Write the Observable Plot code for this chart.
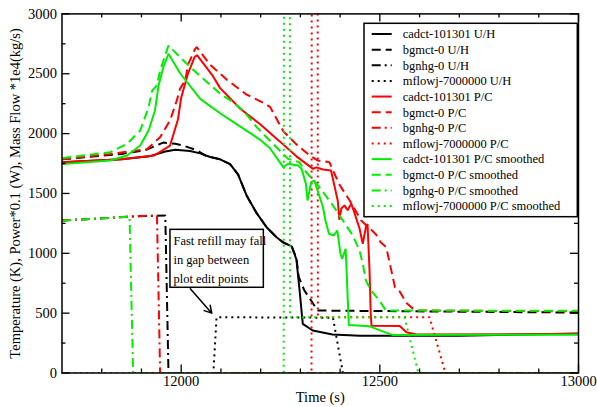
<!DOCTYPE html>
<html><head><meta charset="utf-8">
<script src="https://cdn.jsdelivr.net/npm/d3@7"></script>
<script src="https://cdn.jsdelivr.net/npm/@observablehq/plot@0.6"></script>
<style>body{margin:0;background:#fff} svg{display:block} svg text{font-family:'Liberation Serif','Times New Roman',serif}</style>
</head><body><div id="chart"></div>
<script>
// ---- data: [time (s), value] ----
const cadctUH = [[11700,1760],[11850,1785],[11920,1810],[11960,1850],[11985,1865],[12022,1855],[12048,1835],[12073,1805],[12098,1785],[12123,1745],[12143,1660],[12165,1480],[12190,1335],[12215,1218],[12240,1134],[12257,1090],[12278,1058],[12290,950],[12298,690],[12306,410],[12331,355],[12381,322],[12450,312],[12700,312],[13000,330]];
const bgmctUH = [[11700,1785],[11850,1830],[11910,1862],[11955,1925],[11985,1915],[12005,1900],[12040,1860],[12065,1808],[12073,1805],[12098,1785],[12123,1745],[12143,1660],[12165,1480],[12190,1335],[12215,1218],[12240,1134],[12257,1090],[12278,1060],[12290,960],[12296,800],[12310,690],[12327,606],[12343,522],[12400,520],[13000,505]];
const bgnhgUH = [[11700,1275],[11800,1292],[11870,1307],[11960,1316],[11968,0],[13000,0]];
const mflowjUH = [[11700,0],[12081,0],[12089,466],[12382,462],[12407,0],[13000,0]];
const cadctPC = [[11700,1760],[11850,1785],[11932,1817],[11972,1900],[11992,2120],[12000,2300],[12017,2500],[12034,2640],[12040,2655],[12048,2620],[12080,2480],[12098,2380],[12148,2210],[12198,2080],[12248,1935],[12290,1810],[12332,1705],[12340,1718],[12357,1700],[12377,1692],[12386,1560],[12394,1440],[12398,1280],[12403,1375],[12411,1400],[12419,1360],[12428,1415],[12436,1340],[12449,1205],[12457,1080],[12465,1220],[12469,1245],[12474,860],[12477,500],[12479,395],[12550,392],[12567,340],[12592,322],[13000,325]];
const bgmctPC = [[11700,1785],[11822,1830],[11914,1870],[11947,1970],[11972,2110],[11989,2277],[11997,2374],[12010,2444],[12018,2583],[12035,2708],[12039,2722],[12073,2575],[12115,2450],[12165,2325],[12211,2250],[12224,2221],[12257,2020],[12290,1910],[12324,1815],[12344,1775],[12373,1761],[12382,1692],[12399,1570],[12424,1441],[12453,1274],[12490,1160],[12502,1093],[12516,1051],[12528,870],[12538,717],[12550,680],[12567,585],[12584,536],[12592,522],[13000,515]];
const bgnhgPC = [[11700,1275],[11800,1292],[11870,1307],[11939,1316],[11947,0],[13000,0]];
const mflowjPC = [[11700,0],[12328,0],[12329,6000],[12343,6000],[12344,466],[12625,466],[12665,0],[13000,0]];
const cadctPCs = [[11700,1745],[11822,1775],[11864,1817],[11897,1900],[11918,2026],[11934,2193],[11943,2402],[11955,2555],[11968,2667],[11998,2500],[12048,2290],[12098,2170],[12148,2060],[12198,1950],[12223,1880],[12257,1720],[12269,1748],[12294,1734],[12303,1706],[12314,1580],[12318,1441],[12327,1594],[12335,1608],[12357,1385],[12363,1274],[12372,1163],[12384,1149],[12393,1190],[12401,996],[12405,954],[12414,1037],[12422,400],[12474,390],[12531,318],[13000,320]];
const bgmctPCs = [[11700,1795],[11822,1845],[11864,1915],[11897,2026],[11918,2221],[11927,2360],[11939,2402],[11947,2527],[11968,2736],[12014,2583],[12048,2480],[12098,2333],[12131,2262],[12156,2193],[12190,2054],[12223,1942],[12248,1859],[12269,1789],[12298,1761],[12311,1692],[12348,1552],[12382,1399],[12407,1274],[12432,1149],[12449,1023],[12457,912],[12465,773],[12478,689],[12499,606],[12515,522],[13000,520]];
const bgnhgPCs = [[11700,1275],[11800,1292],[11870,1307],[11879,0],[13000,0]];
const mflowjPCs = [[11700,0],[12258,0],[12259,6000],[12273,6000],[12274,466],[12562,466],[12597,0],[13000,0]];

const seriesNames = ["cadct-101301 U/H","bgmct-0 U/H","bgnhg-0 U/H","mflowj-7000000 U/H",
  "cadct-101301 P/C","bgmct-0 P/C","bgnhg-0 P/C","mflowj-7000000 P/C",
  "cadct-101301 P/C smoothed","bgmct-0 P/C smoothed","bgnhg-0 P/C smoothed","mflowj-7000000 P/C smoothed"];
const seriesData = [cadctUH,bgmctUH,bgnhgUH,mflowjUH,cadctPC,bgmctPC,bgnhgPC,mflowjPC,cadctPCs,bgmctPCs,bgnhgPCs,mflowjPCs];

const xMajor = [12000,12500,13000];
const xMinor = [11800,11900,12100,12200,12300,12400,12600,12700,12800,12900];
const yMajor = [0,500,1000,1500,2000,2500,3000];
const yMinor = [250,750,1250,1750,2250,2750];

const noteBox = [{x1:11973, x2:12208, y1:712, y2:1196, text:"Fast refill may fall\nin gap between\nplot edit points"}];
const noteArrow = [{x1:12023, y1:703, x2:12077, y2:500}];

// ---- styles ----
const colors = ["black","black","black","black","#ff0000","#ff0000","#ff0000","#ff0000","#00ee00","#00ee00","#00ee00","#00ee00"];
const dashes = [null,"9,5","9,4,2,4","2,4"];
const FONT = "'Liberation Serif','Times New Roman',serif";

const W=597, H=407, mL=61.5, mR=19, mT=13.4, mB=34.5;
const innerW = W-mL-mR, innerH = H-mT-mB;
const MAJ=8, MIN=4;

const marks = [];
seriesData.forEach((d,i)=>{
  marks.push(Plot.line(d,{x:p=>p[0], y:p=>p[1], stroke:colors[i], strokeWidth:2,
    strokeDasharray: dashes[i%4] || undefined, clip:true, strokeLinejoin:"miter", strokeLinecap:"butt"}));
});
// annotation
marks.push(Plot.rect(noteBox,{x1:"x1",x2:"x2",y1:"y1",y2:"y2",fill:"white",stroke:"black",strokeWidth:1.5}));
marks.push(Plot.text(noteBox,{x:"x1",y:"y2",text:"text",textAnchor:"start",lineAnchor:"top",dx:3,dy:2,lineHeight:1.5,fontSize:12.5,fontFamily:FONT,fill:"black"}));
marks.push(Plot.arrow(noteArrow,{x1:"x1",y1:"y1",x2:"x2",y2:"y2",stroke:"black",strokeWidth:1.5,headLength:8}));
// inward ticks on all four sides
marks.push(Plot.ruleX(xMajor,{x:d=>d, insetTop:innerH-MAJ, stroke:"black", strokeWidth:1.3}));
marks.push(Plot.ruleX(xMajor,{x:d=>d, insetBottom:innerH-MAJ, stroke:"black", strokeWidth:1.3}));
marks.push(Plot.ruleX(xMinor,{x:d=>d, insetTop:innerH-MIN, stroke:"black", strokeWidth:1.3}));
marks.push(Plot.ruleX(xMinor,{x:d=>d, insetBottom:innerH-MIN, stroke:"black", strokeWidth:1.3}));
marks.push(Plot.ruleY(yMajor,{y:d=>d, insetRight:innerW-MAJ, stroke:"black", strokeWidth:1.3}));
marks.push(Plot.ruleY(yMajor,{y:d=>d, insetLeft:innerW-MAJ, stroke:"black", strokeWidth:1.3}));
marks.push(Plot.ruleY(yMinor,{y:d=>d, insetRight:innerW-MIN, stroke:"black", strokeWidth:1.3}));
marks.push(Plot.ruleY(yMinor,{y:d=>d, insetLeft:innerW-MIN, stroke:"black", strokeWidth:1.3}));
marks.push(Plot.frame({stroke:"black", strokeWidth:1.5}));
marks.push(Plot.axisX({ticks:xMajor, tickSize:0, tickPadding:3, tickFormat:d=>String(d), fontSize:14.5, fontFamily:FONT,
  label:"Time (s)", labelAnchor:"center", labelArrow:"none", labelOffset:29}));
marks.push(Plot.axisY({ticks:yMajor, tickSize:0, tickPadding:5, tickFormat:d=>String(d), fontSize:14.5, fontFamily:FONT,
  label:"Temperature (K), Power*0.1 (W), Mass Flow *1e4(kg/s)", labelAnchor:"center", labelArrow:"none", labelOffset:52}));

const chart = Plot.plot({
  width:W, height:H, marginLeft:mL, marginRight:mR, marginTop:mT, marginBottom:mB,
  x:{domain:[11700,13000]}, y:{domain:[0,3000]},
  style:{fontFamily:FONT, fontSize:"14.5px", background:"white", color:"black"},
  marks
});
document.getElementById("chart").appendChild(chart);

// legend inside the frame
const svg = d3.select(chart);
const lg = svg.append("g").attr("font-family", FONT).attr("font-size", 12.5).attr("text-anchor","start");
lg.append("rect").attr("x",364).attr("y",23.3).attr("width",213.3).attr("height",193.4)
  .attr("fill","white").attr("stroke","black").attr("stroke-width",1.5);
seriesNames.forEach((name,i)=>{
  const y = 34 + i*15.64;
  lg.append("line").attr("x1",371.7).attr("x2",391.7).attr("y1",y).attr("y2",y)
    .attr("stroke",colors[i]).attr("stroke-width",2)
    .attr("stroke-dasharray", dashes[i%4] || null);
  lg.append("text").attr("x",402.7).attr("y",y).attr("dy","0.35em").attr("text-anchor","start").attr("fill","black").text(name);
});
</script></body></html>
